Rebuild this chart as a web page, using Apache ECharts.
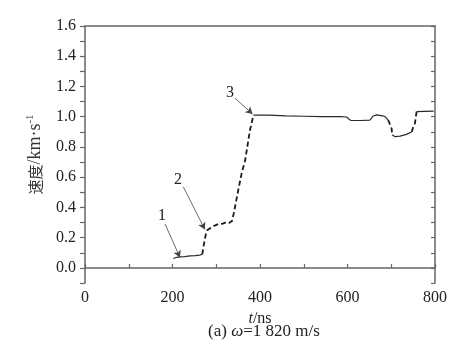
<!DOCTYPE html>
<html>
<head>
<meta charset="utf-8">
<script src="https://cdn.jsdelivr.net/npm/echarts@6/dist/echarts.min.js"></script>
<style>html,body{margin:0;padding:0;background:#fff}#c{width:470px;height:340px}</style>
</head>
<body>
<div id="c"></div>
<script>
// time (ns)
const timeNs = [202,210,217,228,240,252,262,268,272,276,280,286,295,305,315,324,330,336,340,350,358,366,377,385,420,460,500,540,583,598,603,608,630,651,659,667,680,686,693,697,701,702,709,720,735,747,750,754,758,775,797];
// velocity (km/s)
const velocity = [0.062,0.07,0.073,0.075,0.079,0.081,0.084,0.09,0.16,0.22,0.25,0.262,0.278,0.29,0.293,0.303,0.298,0.31,0.36,0.51,0.625,0.71,0.91,1.01,1.01,1.005,1.003,1.0,1.0,0.998,0.985,0.975,0.975,0.978,1.005,1.012,1.006,1.0,0.978,0.95,0.92,0.88,0.868,0.872,0.883,0.9,0.93,0.955,1.033,1.035,1.037];
// index spans drawn dashed / solid
const dashedSpans = [[7,23],[38,41],[45,48]];
const solidSpans = [[0,7],[23,38],[41,45],[48,50]];
// x tick labels and y tick labels
const xTickLabels = [0,200,400,600,800];
const yTickLabels = ['0.0','0.2','0.4','0.6','0.8','1.0','1.2','1.4','1.6'];
// annotations: label, text position [t,v], arrow start, arrow tip
const annoLabels = ['1','2','3'];
const annoTextPos = [[176,0.345],[212.6,0.581],[331.4,1.155]];
const annoArrowFrom = [[183,0.29],[224.7,0.536],[343,1.122]];
const annoArrowTo = [[217,0.069],[274,0.254],[383,1.018]];

const FONT = '"Liberation Serif","Times New Roman",serif';
function spanData(s){const a=s[0],b=s[1];const out=[];for(let i=a;i<=b;i++)out.push([timeNs[i],velocity[i]]);return out;}

const series = [];
solidSpans.forEach(s=>series.push({type:'line',data:spanData(s),symbol:'none',silent:true,animation:false,
  lineStyle:{color:'#2a2a2a',width:1.2,type:'solid'}}));
dashedSpans.forEach(s=>series.push({type:'line',data:spanData(s),symbol:'none',silent:true,animation:false,
  lineStyle:{color:'#1a1a1a',width:1.8,type:[5,3]}}));
series.push({type:'scatter',data:[],silent:true,animation:false,
  markLine:{silent:true,animation:false,symbol:['none','arrow'],symbolSize:[6,7],
    lineStyle:{color:'#444',width:0.8,type:'solid'},label:{show:false},
    data:annoArrowFrom.map((f,i)=>[{coord:f},{coord:annoArrowTo[i]}])},
  markPoint:{silent:true,animation:false,symbol:'circle',symbolSize:0,
    label:{show:true,position:'inside',formatter:'{b}',color:'#222',fontSize:16,fontFamily:FONT},
    data:annoTextPos.map((p,i)=>({name:annoLabels[i],coord:p}))}
});

const chart = echarts.init(document.getElementById('c'),null,{renderer:'canvas'});
chart.setOption({
  animation:false,
  backgroundColor:'#fff',
  grid:{left:85,right:35,top:26,bottom:57,containLabel:false},
  xAxis:[{type:'value',min:0,max:800,interval:100,position:'bottom',
    name:'{i|t}/ns',nameLocation:'middle',nameGap:24,
    nameTextStyle:{fontSize:16,fontFamily:FONT,color:'#222',rich:{i:{fontStyle:'italic',fontSize:16,fontFamily:FONT,color:'#222'}}},
    axisLine:{show:true,lineStyle:{color:'#666',width:1.5}},
    axisTick:{show:true,inside:true,length:4,lineStyle:{color:'#666',width:1.2}},
    axisLabel:{fontSize:16,fontFamily:FONT,color:'#222',margin:7,
      formatter:v=>xTickLabels.indexOf(Math.round(v))>=0?String(Math.round(v)):''},
    splitLine:{show:false}},
   {type:'value',min:0,max:800,position:'top',axisLine:{show:true,onZero:false,lineStyle:{color:'#666',width:1.5}},
    axisTick:{show:false},axisLabel:{show:false},splitLine:{show:false}}],
  yAxis:[{type:'value',min:-0.1,max:1.6,interval:0.1,position:'left',
    name:'{c|速度}/km·s{s|-1}',nameLocation:'middle',nameGap:40,nameRotate:90,
    nameTextStyle:{fontSize:18,fontFamily:FONT,color:'#333',
      rich:{c:{fontSize:15,fontFamily:'"Noto Sans CJK SC",sans-serif',color:'#333'},
            s:{fontSize:11,verticalAlign:'top',fontFamily:FONT,color:'#333',padding:[0,0,9,0]}}},
    axisLine:{show:true,onZero:false,lineStyle:{color:'#666',width:1.5}},
    axisTick:{show:true,inside:false,length:5,lineStyle:{color:'#666',width:1.2}},
    axisLabel:{fontSize:16,fontFamily:FONT,color:'#222',margin:9,
      formatter:v=>{const k=Math.round(v*10);return (k>=0&&k%2===0)?yTickLabels[k/2]:'';}},
    splitLine:{show:false}},
   {type:'value',min:-0.1,max:1.6,interval:0.1,position:'right',
    axisLine:{show:true,onZero:false,lineStyle:{color:'#666',width:1.5}},
    axisTick:{show:true,inside:true,length:4,lineStyle:{color:'#666',width:1.2}},
    axisLabel:{show:false},splitLine:{show:false}}],
  graphic:[{type:'text',x:264,y:332,silent:true,
    style:{text:'(a) {i|ω}=1 820 m/s',align:'center',verticalAlign:'middle',fontSize:17,fontFamily:FONT,fill:'#222',
      rich:{i:{fontStyle:'italic',fontSize:17,fontFamily:FONT,fill:'#222'}}}}],
  series:series
});
</script>
</body>
</html>
